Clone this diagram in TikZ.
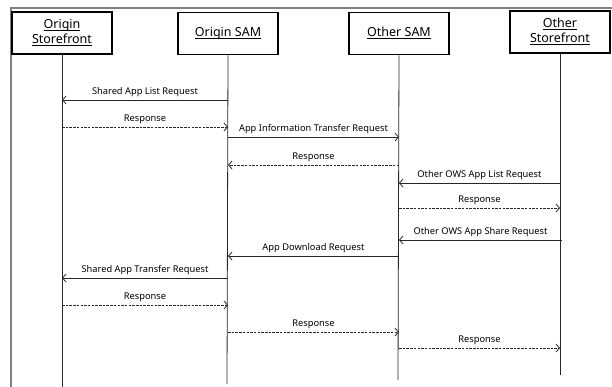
\documentclass[tikz,border=0pt]{standalone}
\usepackage{fontspec}
\setmainfont{Noto Sans}
\usetikzlibrary{arrows.meta}
\newcommand\hdrline[1]{\underline{\smash{#1}}\vphantom{Ag}}
\begin{document}
\begin{tikzpicture}[x=1pt,y=-1pt,
    actor/.style={draw, line width=1.7pt, minimum width=100pt, minimum height=42pt, align=center, inner sep=1pt, font=\fontsize{12.5}{15}\selectfont},
    life/.style={line width=0.8pt, black!85},
    msg/.style={line width=0.8pt, black!85, -{Straight Barb[length=3.5pt,width=8pt]}},
    reply/.style={msg, dash pattern=on 2.5pt off 1.2pt},
    lbl/.style={above, inner sep=2.5pt, black, font=\fontsize{9.3}{11}\selectfont}]
  \useasboundingbox (0,0) rectangle (612,387);
  % outer frame
  \draw[black!50, line width=1.2pt] (11,387) -- (11,8) -- (612,8);

  % participants
  \node[actor] (osf)  at (62,33)    {\hdrline{Origin}\\\hdrline{Storefront}};
  \node[actor] (osam) at (228,33.5) {\hdrline{Origin SAM}};
  \node[actor] (xsam) at (399,33.5) {\hdrline{Other SAM}};
  \node[actor] (xsf)  at (560,32)   {\hdrline{Other}\\\hdrline{Storefront}};

  % lifelines
  \coordinate (osf-end)  at (62,387);
  \coordinate (osam-end) at (227,384);
  \coordinate (xsam-end) at (398,380);
  \coordinate (xsf-end)  at (560,375);
  \foreach \n in {osf,osam,xsam,xsf}
    \draw[life] (\n.south) -- (\n-end);

  % messages
  \draw[msg]   (osam |- 0,100) -- node[lbl]{Shared App List Request} (osf |- 0,100);
  \draw[reply] (osf |- 0,127)  -- node[lbl]{Response} (osam |- 0,127);
  \draw[msg]   (osam |- 0,137) -- node[lbl]{App Information Transfer Request} (xsam |- 0,137);
  \draw[reply] (xsam |- 0,165) -- node[lbl]{Response} (osam |- 0,165);
  \draw[msg]   (xsf |- 0,183)  -- node[lbl]{Other OWS App List Request} (xsam |- 0,183);
  \draw[reply] (xsam |- 0,208) -- node[lbl]{Response} (xsf |- 0,208);
  \draw[msg]   ([xshift=2pt]xsf |- 0,240) -- node[lbl]{Other OWS App Share Request} (xsam |- 0,240);
  \draw[msg]   (xsam |- 0,256) -- node[lbl]{App Download Request} (osam |- 0,256);
  \draw[msg]   (osam |- 0,278) -- node[lbl]{Shared App Transfer Request} (osf |- 0,278);
  \draw[reply] (osf |- 0,305)  -- node[lbl]{Response} (osam |- 0,305);
  \draw[reply] (osam |- 0,332) -- node[lbl]{Response} (xsam |- 0,332);
  \draw[reply] (xsam |- 0,348) -- node[lbl]{Response} (xsf |- 0,348);
\end{tikzpicture}
\end{document}
